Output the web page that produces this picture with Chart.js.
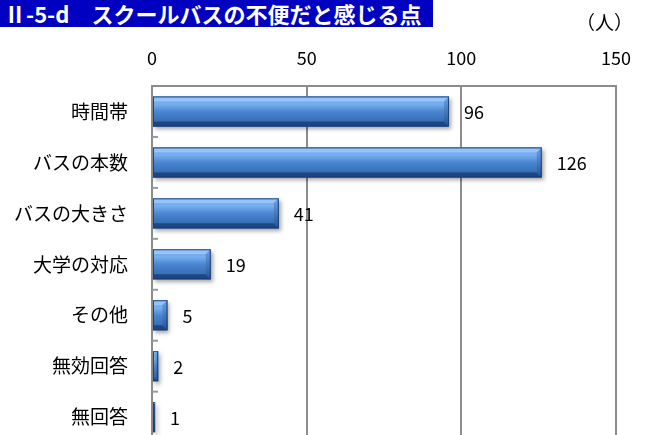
<!DOCTYPE html>
<html><head><meta charset="utf-8">
<script src="https://cdn.jsdelivr.net/npm/chart.js@4/dist/chart.umd.min.js"></script>
<style>
html,body{margin:0;padding:0;background:#fff;overflow:hidden;width:648px;height:435px;}
#wrap{position:absolute;left:0;top:0;width:648px;height:480px;}
#title{position:absolute;left:0;top:0;width:433px;height:27px;background:#0000c0;color:#fff;font:bold 22px "Noto Sans CJK JP","Noto Sans",sans-serif;line-height:26px;padding-left:4px;box-sizing:border-box;white-space:nowrap;overflow:hidden;z-index:2;}
#unit{position:absolute;left:576px;top:8px;font:19px "Noto Sans CJK JP",sans-serif;color:#000;z-index:2;}
</style></head>
<body>
<div id="title">Ⅱ-5-d　スクールバスの不便だと感じる点</div>
<div id="unit">（人）</div>
<div id="wrap"><canvas id="c" width="648" height="478" style="width:648px;height:478px"></canvas></div>
<script>
const categories = ["時間帯","バスの本数","バスの大きさ","大学の対応","その他","無効回答","無回答"];
const values = [96,126,41,19,5,2,1];
const xTicks = [0,50,100,150];

const FONT = '"Noto Sans CJK JP","Noto Sans",sans-serif';

const barPlugin = {
  id:'bevelBars',
  afterDatasetsDraw(chart){
    const ctx = chart.ctx;
    const meta = chart.getDatasetMeta(0);
    const area = chart.chartArea;
    ctx.save();
    ctx.beginPath();
    ctx.rect(area.left, area.top, area.right-area.left, area.bottom-area.top);
    ctx.clip();
    meta.data.forEach((el,i)=>{
      const x0 = el.base, x1 = el.x;
      const h = el.height, yt = el.y - h/2, yb = el.y + h/2;
      const w = x1 - x0;
      ctx.save();
      ctx.shadowColor='rgba(0,0,0,0.35)';
      ctx.shadowBlur=4; ctx.shadowOffsetX=2; ctx.shadowOffsetY=3;
      ctx.fillStyle='#3a70b8';
      ctx.fillRect(x0,yt,w,h);
      ctx.restore();
      const g = ctx.createLinearGradient(0,yt,0,yb);
      g.addColorStop(0,'#5c95dc');
      g.addColorStop(0.25,'#78b0f0');
      g.addColorStop(0.5,'#4a86d2');
      g.addColorStop(1,'#2d62a8');
      ctx.fillStyle=g;
      ctx.fillRect(x0,yt,w,h);
      const b = Math.min(5, w/2);
      ctx.fillStyle='rgba(160,205,255,0.8)';
      ctx.beginPath();
      ctx.moveTo(x0,yt);ctx.lineTo(x1,yt);ctx.lineTo(x1-b,yt+b);ctx.lineTo(x0,yt+b);ctx.closePath();ctx.fill();
      ctx.fillStyle='rgba(20,55,110,0.7)';
      ctx.beginPath();
      ctx.moveTo(x0,yb);ctx.lineTo(x1,yb);ctx.lineTo(x1-b,yb-b);ctx.lineTo(x0,yb-b);ctx.closePath();ctx.fill();
      const g2 = ctx.createLinearGradient(0,yt,0,yb);
      g2.addColorStop(0,'#6aa2e6');g2.addColorStop(1,'#24528f');
      ctx.fillStyle=g2;
      ctx.beginPath();
      ctx.moveTo(x1,yt);ctx.lineTo(x1,yb);ctx.lineTo(x1-b,yb-b);ctx.lineTo(x1-b,yt+b);ctx.closePath();ctx.fill();
      ctx.strokeStyle='rgba(25,60,115,0.9)';ctx.lineWidth=1;
      ctx.strokeRect(x0+0.5,yt+0.5,w-1,h-1);
    });
    ctx.restore();
    ctx.save();
    ctx.fillStyle='#000';
    ctx.font='18px '+FONT;
    ctx.textBaseline='middle';
    ctx.textAlign='left';
    meta.data.forEach((el,i)=>{
      ctx.fillText(String(values[i]), el.x+15, el.y+1);
    });
    const ys = chart.scales.y;
    ctx.strokeStyle='#999';ctx.lineWidth=2;
    for(let i=0;i<categories.length-1;i++){
      const yy = (ys.getPixelForValue(i)+ys.getPixelForValue(i+1))/2;
      ctx.beginPath();ctx.moveTo(area.left,yy);ctx.lineTo(area.left+6,yy);ctx.stroke();
    }
    ctx.restore();
  }
};

new Chart(document.getElementById('c'),{
  type:'bar',
  data:{labels:categories,datasets:[{data:values,backgroundColor:'rgba(0,0,0,0)',borderWidth:0,barThickness:30}]},
  options:{
    indexAxis:'y',
    responsive:false,
    animation:false,
    layout:{padding:{left:0,right:28,top:0,bottom:0}},
    plugins:{legend:{display:false},tooltip:{enabled:false}},
    scales:{
      x:{
        position:'top',min:0,max:150,
        afterBuildTicks(s){s.ticks=xTicks.map(v=>({value:v}));},
        afterFit(s){s.height=86;},
        ticks:{font:{size:18,family:FONT},color:'#000',padding:17},
        grid:{color:'#8c8c8c',lineWidth:2,drawTicks:false},
        border:{display:true,color:'#8c8c8c',width:2}
      },
      y:{
        afterFit(s){s.width=152;},
        ticks:{font:{size:19,family:FONT},color:'#000',padding:24},
        grid:{display:false,drawTicks:false},
        border:{display:true,color:'#8c8c8c',width:2}
      }
    }
  },
  plugins:[barPlugin,{
    id:'rightBorder',
    afterDraw(chart){
      const a=chart.chartArea,ctx=chart.ctx;
      ctx.save();ctx.strokeStyle='#8c8c8c';ctx.lineWidth=2;
      ctx.beginPath();ctx.moveTo(a.right,a.top);ctx.lineTo(a.right,a.bottom);ctx.stroke();ctx.restore();
    }
  }]
});
</script>
</body></html>
